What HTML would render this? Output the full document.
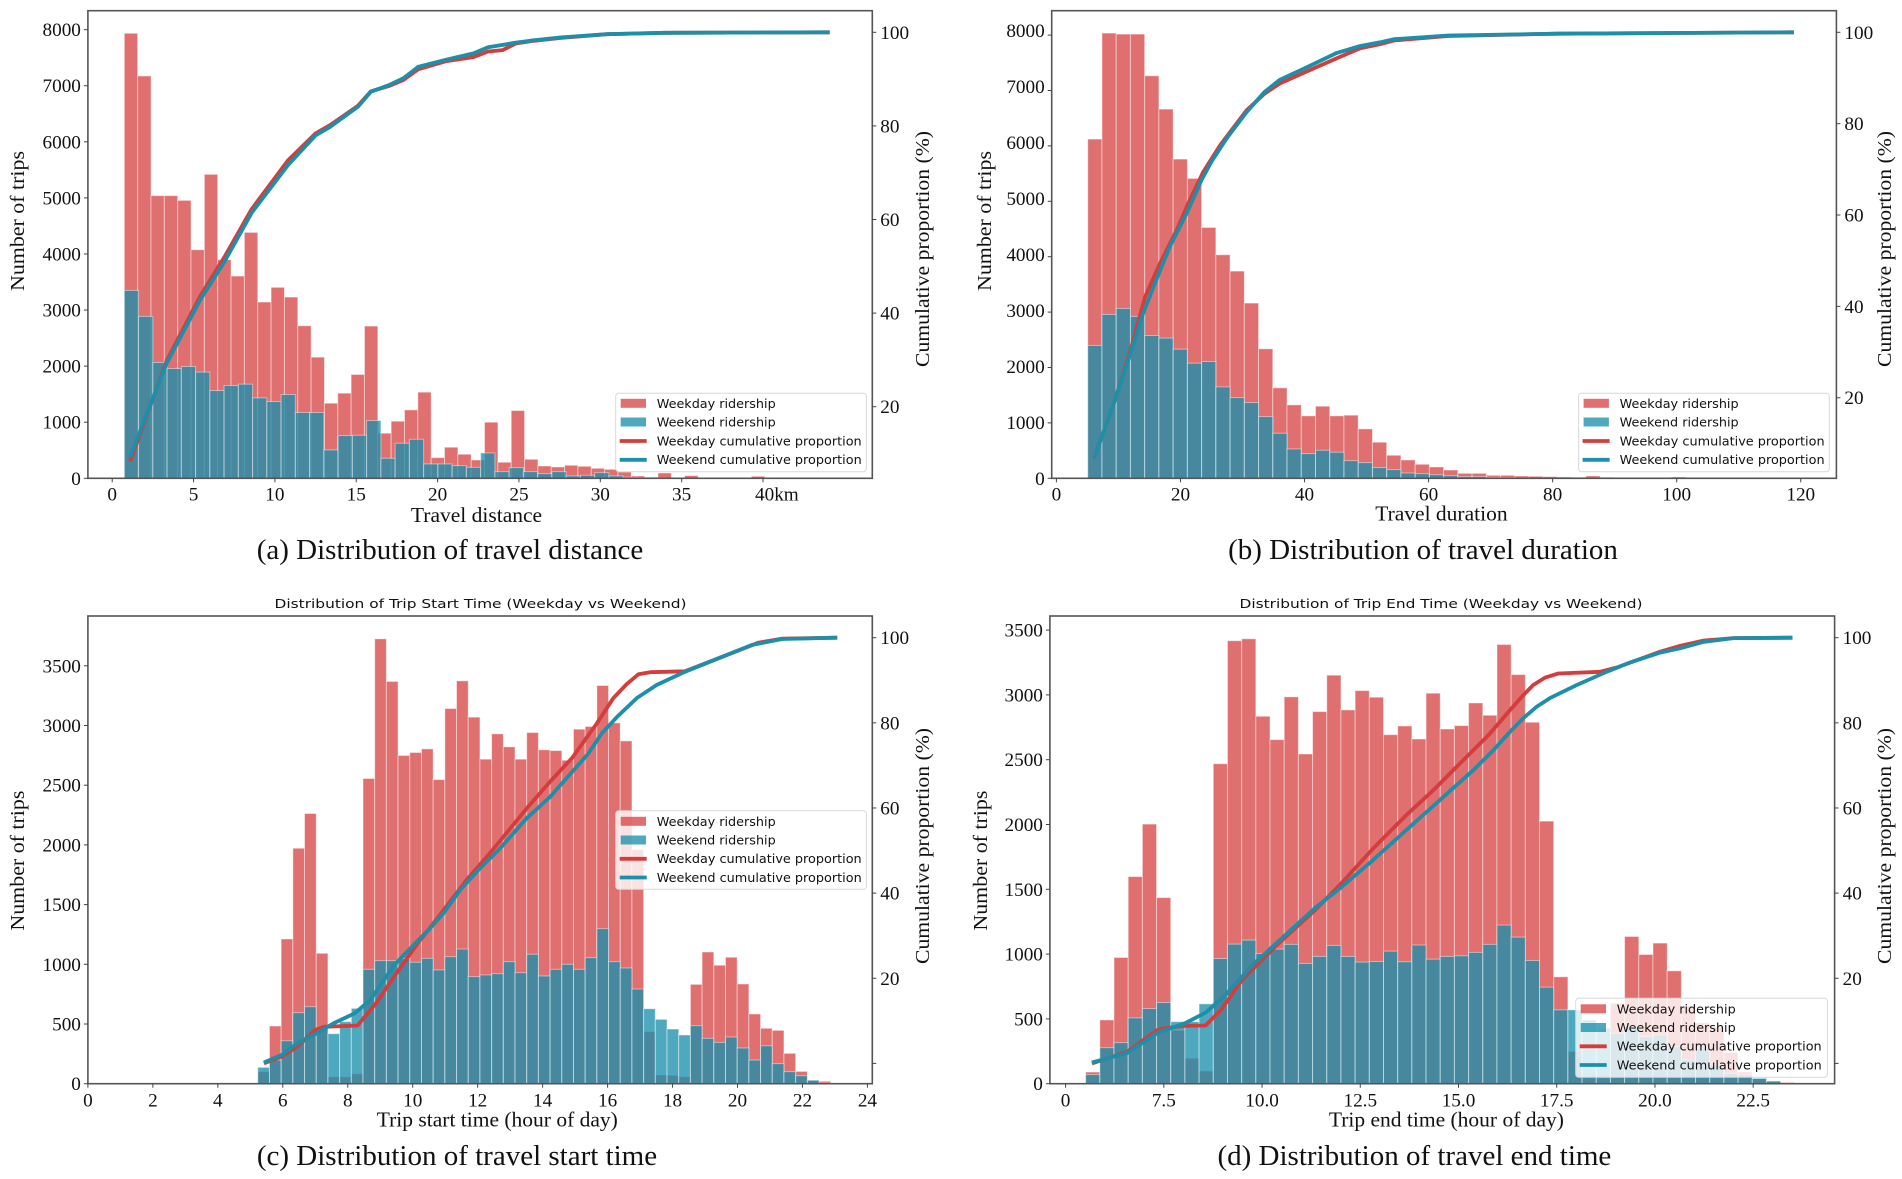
<!DOCTYPE html>
<html lang="en">
<head>
<meta charset="utf-8">
<title>Distribution of travel distance, duration, start and end time</title>
<style>
html,body{margin:0;padding:0;background:#fff;}
svg{display:block;}
text{font-family:"Liberation Serif",serif;fill:#111;}
.tick{font-size:19.2px;}
.axis-title{font-size:20px;}
.xlabel{font-size:21.5px;text-anchor:middle;}
.caption{font-size:29px;text-anchor:middle;}
.legend-text,.chart-title{font-family:"DejaVu Sans",sans-serif;font-size:12.6px;}
.legend-box{fill:#fff;fill-opacity:.8;stroke:#d8d8d8;stroke-width:1;}
.sw-red{fill:#d63f3f;fill-opacity:.75;}
.sw-teal{fill:#198fac;fill-opacity:.77;}
.ln-red{stroke:#d43d3d;stroke-width:3.8;}
.ln-teal{stroke:#1e8fa8;stroke-width:3.8;}
</style>
</head>
<body>
<svg xmlns="http://www.w3.org/2000/svg" width="1902" height="1179" viewBox="0 0 1902 1179">
<rect width="1902" height="1179" fill="#fff"/>

<g id="panel-a">
  <g id="marks-a"></g>
  <g id="axes-a"></g>
  <text class="axis-title" transform="translate(24,221) rotate(-90)" text-anchor="middle" textLength="140" lengthAdjust="spacingAndGlyphs">Number of trips</text>
  <text class="axis-title" transform="translate(929,249) rotate(-90)" text-anchor="middle" textLength="236" lengthAdjust="spacingAndGlyphs">Cumulative proportion (%)</text>
  <text class="xlabel" x="476.5" y="522">Travel distance</text>
  <text class="caption" x="450" y="559">(a) Distribution of travel distance</text>
  <g transform="translate(615.7,393.3)">
    <rect class="legend-box" width="250.7" height="78.4" rx="3"/>
    <rect class="sw-red" x="5" y="5.5" width="25.3" height="9"/>
    <rect class="sw-teal" x="5" y="24.2" width="25.3" height="9"/>
    <line class="ln-red" x1="4" x2="31" y1="47.7" y2="47.7"/>
    <line class="ln-teal" x1="4" x2="31" y1="66.5" y2="66.5"/>
    <text class="legend-text" x="41" y="14.5" textLength="119" lengthAdjust="spacingAndGlyphs">Weekday ridership</text>
    <text class="legend-text" x="41" y="33.2" textLength="119" lengthAdjust="spacingAndGlyphs">Weekend ridership</text>
    <text class="legend-text" x="41" y="52" textLength="205" lengthAdjust="spacingAndGlyphs">Weekday cumulative proportion</text>
    <text class="legend-text" x="41" y="70.8" textLength="205" lengthAdjust="spacingAndGlyphs">Weekend cumulative proportion</text>
  </g>
</g>

<g id="panel-b">
  <g id="marks-b"></g>
  <g id="axes-b"></g>
  <text class="axis-title" transform="translate(991,221) rotate(-90)" text-anchor="middle" textLength="140" lengthAdjust="spacingAndGlyphs">Number of trips</text>
  <text class="axis-title" transform="translate(1891,249) rotate(-90)" text-anchor="middle" textLength="236" lengthAdjust="spacingAndGlyphs">Cumulative proportion (%)</text>
  <text class="xlabel" x="1441.4" y="520.7">Travel duration</text>
  <text class="caption" x="1423" y="559">(b) Distribution of travel duration</text>
  <g transform="translate(1578.6,393.3)">
    <rect class="legend-box" width="250.7" height="78.4" rx="3"/>
    <rect class="sw-red" x="5" y="5.5" width="25.3" height="9"/>
    <rect class="sw-teal" x="5" y="24.2" width="25.3" height="9"/>
    <line class="ln-red" x1="4" x2="31" y1="47.7" y2="47.7"/>
    <line class="ln-teal" x1="4" x2="31" y1="66.5" y2="66.5"/>
    <text class="legend-text" x="41" y="14.5" textLength="119" lengthAdjust="spacingAndGlyphs">Weekday ridership</text>
    <text class="legend-text" x="41" y="33.2" textLength="119" lengthAdjust="spacingAndGlyphs">Weekend ridership</text>
    <text class="legend-text" x="41" y="52" textLength="205" lengthAdjust="spacingAndGlyphs">Weekday cumulative proportion</text>
    <text class="legend-text" x="41" y="70.8" textLength="205" lengthAdjust="spacingAndGlyphs">Weekend cumulative proportion</text>
  </g>
</g>

<g id="panel-c">
  <text class="chart-title" x="274.5" y="608" textLength="412" lengthAdjust="spacingAndGlyphs">Distribution of Trip Start Time (Weekday vs Weekend)</text>
  <g id="marks-c"></g>
  <g id="axes-c"></g>
  <text class="axis-title" transform="translate(24,860.6) rotate(-90)" text-anchor="middle" textLength="140" lengthAdjust="spacingAndGlyphs">Number of trips</text>
  <text class="axis-title" transform="translate(929,846) rotate(-90)" text-anchor="middle" textLength="236" lengthAdjust="spacingAndGlyphs">Cumulative proportion (%)</text>
  <text class="xlabel" x="497.3" y="1126.7">Trip start time (hour of day)</text>
  <text class="caption" x="457" y="1165">(c) Distribution of travel start time</text>
  <g transform="translate(615.7,810.8)">
    <rect class="legend-box" width="250.7" height="78.5" rx="3"/>
    <rect class="sw-red" x="5" y="6" width="25.3" height="9"/>
    <rect class="sw-teal" x="5" y="24.7" width="25.3" height="9"/>
    <line class="ln-red" x1="4" x2="31" y1="48" y2="48"/>
    <line class="ln-teal" x1="4" x2="31" y1="66.7" y2="66.7"/>
    <text class="legend-text" x="41" y="15" textLength="119" lengthAdjust="spacingAndGlyphs">Weekday ridership</text>
    <text class="legend-text" x="41" y="33.7" textLength="119" lengthAdjust="spacingAndGlyphs">Weekend ridership</text>
    <text class="legend-text" x="41" y="52.3" textLength="205" lengthAdjust="spacingAndGlyphs">Weekday cumulative proportion</text>
    <text class="legend-text" x="41" y="71" textLength="205" lengthAdjust="spacingAndGlyphs">Weekend cumulative proportion</text>
  </g>
</g>

<g id="panel-d">
  <text class="chart-title" x="1239.5" y="608" textLength="403" lengthAdjust="spacingAndGlyphs">Distribution of Trip End Time (Weekday vs Weekend)</text>
  <g id="marks-d"></g>
  <g id="axes-d"></g>
  <text class="axis-title" transform="translate(987,860.6) rotate(-90)" text-anchor="middle" textLength="140" lengthAdjust="spacingAndGlyphs">Number of trips</text>
  <text class="axis-title" transform="translate(1891,846) rotate(-90)" text-anchor="middle" textLength="236" lengthAdjust="spacingAndGlyphs">Cumulative proportion (%)</text>
  <text class="xlabel" x="1446.4" y="1126.7">Trip end time (hour of day)</text>
  <text class="caption" x="1414.4" y="1165">(d) Distribution of travel end time</text>
  <g transform="translate(1575.7,998.3)">
    <rect class="legend-box" width="251.7" height="79" rx="3"/>
    <rect class="sw-red" x="5" y="6" width="25.3" height="9"/>
    <rect class="sw-teal" x="5" y="24.7" width="25.3" height="9"/>
    <line class="ln-red" x1="4" x2="31" y1="48" y2="48"/>
    <line class="ln-teal" x1="4" x2="31" y1="66.7" y2="66.7"/>
    <text class="legend-text" x="41" y="15" textLength="119" lengthAdjust="spacingAndGlyphs">Weekday ridership</text>
    <text class="legend-text" x="41" y="33.7" textLength="119" lengthAdjust="spacingAndGlyphs">Weekend ridership</text>
    <text class="legend-text" x="41" y="52.3" textLength="205" lengthAdjust="spacingAndGlyphs">Weekday cumulative proportion</text>
    <text class="legend-text" x="41" y="71" textLength="205" lengthAdjust="spacingAndGlyphs">Weekend cumulative proportion</text>
  </g>
</g>
</svg>

<script>
// Panel (a) travel distance
const aWeekdayCounts = [7935,7174,5040,5040,4956,4076,5420,3898,3606,4385,3143,3405,3232,2720,2160,1339,1518,1851,2714,804,1018,1220,1536,369,554,429,327,1000,286,1208,339,220,202,232,214,178,160,113,42,20,95,10,48,5,5,5,5,36,3];
const aWeekendCounts = [3351,2887,2065,1958,1994,1893,1565,1655,1679,1434,1369,1494,1173,1173,506,762,768,1030,357,625,696,256,256,226,196,452,119,190,119,83,119,42,54,101,42,20,12,8,5,5];
const aCurveKm = [1.1,3.35,5.4,6.9,8.57,10.8,12.5,13.4,15.1,15.9,17,17.9,18.8,20.5,22.2,23.1,24,24.8,25.7,27.6,30.4,34,44.1];
const aWeekdayCum = [8.3,29.8,43.6,52,62.2,72.6,78.4,80.2,84.3,87.4,88.5,89.8,92.1,93.8,94.7,95.9,96.2,97.6,98.1,98.8,99.6,99.9,100];
const aWeekendCum = [9.3,29.3,42.8,51,61.4,71.6,78,79.8,84.1,87.3,88.7,90.2,92.6,94.1,95.5,96.8,97.3,97.8,98.2,98.9,99.6,99.9,100];
const aXTicks = [0,5,10,15,20,25,30,35,40];
const aXTickLabels = ['0','5','10','15','20','25','30','35','40km'];
const aYTicks = [0,1000,2000,3000,4000,5000,6000,7000,8000];
const aY2Ticks = [20,40,60,80,100];

// Panel (b) travel duration
const bWeekdayCounts = [6123,8036,8018,8018,7266,6664,5762,5413,4528,4035,3740,3163,2337,1633,1325,1127,1301,1127,1139,892,651,416,331,253,205,150,90,90,54,54,42,36,30,24,18,42,18,12,12,12,12,24,6,6,6];
const bWeekendCounts = [2398,2958,3066,2922,2578,2530,2331,2078,2108,1650,1457,1367,1114,813,530,446,506,470,319,283,193,157,96,84,66,48,30,30,18,12,8,6,5,4,3];
const bWeekdayMinutes = [6.06,9.45,11.87,14.3,16.7,19.4,21.5,23.7,26.4,30.7,33.6,36,40.3,45.2,49,52.2,54.4,63.2,80.8,118.9];
const bWeekdayCum = [6.7,19.5,30,42.1,49.4,56.7,63.3,69.5,75.3,83,86.6,88.8,91.4,94.3,96.5,97.4,98.2,99.2,99.7,100];
const bWeekendMinutes = [6.06,9.45,11.87,14,15.9,18.3,21,23.4,25,27.45,30.7,33.6,36,40.3,45.2,49,52.2,54.4,63.2,80.8,118.9];
const bWeekendCum = [6.7,19.5,29.4,38.5,45.1,53.1,60.4,67.7,71.7,76.8,82.6,87,89.6,92.3,95.5,97,97.8,98.5,99.3,99.7,100];
const bXTicks = [0,20,40,60,80,100,120];
const bXTickLabels = ['0','20','40','60','80','100','120'];
const bYTicks = [0,1000,2000,3000,4000,5000,6000,7000,8000];
const bY2Ticks = [20,40,60,80,100];

// Panel (c) trip start time
const cWeekdayCounts = [100,483,1212,1972,2263,1092,58,58,84,2556,3726,3369,2749,2774,2804,2547,3142,3374,3070,2718,2930,2821,2718,2941,2796,2790,2709,2969,2992,3335,3022,2871,1961,436,73,70,59,832,1103,992,1059,835,584,464,447,254,103,31,20];
const cWeekendCounts = [137,198,360,595,645,464,419,520,631,958,1031,1031,1048,1017,1050,953,1064,1128,897,911,922,1022,930,1084,902,958,1000,958,1056,1299,1022,969,793,628,539,458,408,486,380,346,391,299,198,318,168,101,67,28,6];
const cWeekdayHours = [5.42,5.97,6.44,7,7.28,8.3,8.87,9.43,10.18,10.48,10.84,11.66,12.38,13.51,14.23,14.9,15.67,16.18,16.59,16.95,17.31,18.38,19.46,20.63,21.38,23.07];
const cWeekdayCum = [0,1.6,3.9,7.9,8.6,8.9,14.1,20.4,28.5,31.3,34.9,43.1,49.4,59.9,66.2,71.7,79.9,85.8,89.1,91.4,91.9,92.1,95.3,98.8,99.8,100];
const cWeekendHours = [5.42,5.97,6.44,7,7.56,8.22,8.69,9.43,10.18,10.48,10.94,11.46,12.07,12.69,13.51,14.23,15.05,15.41,15.82,16.28,16.9,17.51,18.38,19.46,20.45,21.38,23.07];
const cWeekendCum = [0.2,2,4.7,6.9,9.4,11.8,14.9,23.1,29,31.3,35.2,40.7,45.8,50.5,57.6,62.6,69.7,72.8,77.5,81.3,85.8,88.9,92,95.3,98.3,99.7,100];
const cXTicks = [0,2,4,6,8,10,12,14,16,18,20,22,24];
const cXTickLabels = ['0','2','4','6','8','10','12','14','16','18','20','22','24'];
const cYTicks = [0,500,1000,1500,2000,2500,3000,3500];
const cY2Ticks = [0,20,40,60,80,100];

// Panel (d) trip end time
const dWeekdayCounts = [90,492,974,1598,2003,1436,410,196,98,2469,3418,3433,2835,2655,2985,2544,2871,3152,2884,3033,2982,2693,2760,2660,3013,2737,2763,2938,2843,3389,3157,2789,2026,825,250,55,45,620,1136,997,1085,871,600,470,440,240,90,40,18,10];
const dWeekendCounts = [70,278,317,508,580,626,479,479,616,966,1077,1108,1005,1039,1075,928,982,1067,982,938,943,1023,941,1070,961,982,987,1013,1075,1224,1131,951,745,570,570,492,428,389,441,363,376,286,183,273,144,80,67,41,20,5];
const dWeekdayHours = [5.67,6.56,7.33,7.49,8.03,8.56,8.95,9.49,10.42,11.35,11.98,12.83,13.68,14.36,15.04,15.76,16.31,16.65,16.9,17.2,17.54,18.6,19.03,20.13,20.64,21.22,22,23.5];
const dWeekdayCum = [0,2.7,7.8,8.2,8.8,8.9,12.5,19.6,28.2,36,41.9,50.5,58.4,64.2,70.5,77.1,83,86.5,88.9,90.6,91.6,92,93,96.7,98.1,99.3,99.9,100];
const dWeekendHours = [5.67,6.56,7.33,8.03,8.56,9.03,9.8,10.73,11.35,11.98,12.83,13.72,14.53,15.38,15.89,16.31,16.65,16.99,17.33,18.01,18.77,19.37,20.13,20.64,21.22,22,23.5];
const dWeekendCum = [0.2,2.4,7.1,9.4,11.9,15.7,23.5,31.3,36.5,41.1,47.8,55.2,61.9,68.9,73.6,77.9,81.1,83.8,85.8,88.9,92,94.2,96.5,97.5,99,99.9,100];
const dXTicks = [5,7.5,10,12.5,15,17.5,20,22.5];
const dXTickLabels = ['0','7.5','10.0','12.5','15.0','17.5','20.0','22.5'];
const dYTicks = [0,500,1000,1500,2000,2500,3000,3500];
const dY2Ticks = [0,20,40,60,80,100];

const NS = 'http://www.w3.org/2000/svg';
function make(tag, attrs, parent){
  const el = document.createElementNS(NS, tag);
  for (const k in attrs) el.setAttribute(k, attrs[k]);
  parent.appendChild(el);
  return el;
}

function drawPanel(p){
  const xScale = v => p.x0 + (v - p.xRef) * p.xPer;
  const yScale = v => p.yBase - v * p.yPer;
  const y2Scale = v => p.y100 + (100 - v) * p.y2Per;
  const yLabelPos = v => p.yBase - v * (p.yLabelPer || p.yPer);
  const marks = document.getElementById('marks-' + p.key);
  const axes = document.getElementById('axes-' + p.key);

  p.weekday.forEach((c, i) => {
    const x0 = xScale(p.dayStart + i * p.dayWidth);
    const x1 = xScale(p.dayStart + (i + 1) * p.dayWidth);
    const r = make('rect', {x:x0, y:yScale(c), width:x1 - x0, height:yScale(0) - yScale(c), fill:'#d63f3f', 'fill-opacity':.75, stroke:'#fff', 'stroke-opacity':.45, 'stroke-width':1}, marks);
    
    
  });
  p.weekend.forEach((c, i) => {
    const x0 = xScale(p.endStart + i * p.endWidth);
    const x1 = xScale(p.endStart + (i + 1) * p.endWidth);
    const r = make('rect', {x:x0, y:yScale(c), width:x1 - x0, height:yScale(0) - yScale(c), fill:'#198fac', 'fill-opacity':.77, stroke:'#fff', 'stroke-opacity':.45, 'stroke-width':1}, marks);
    
    
  });

  const linePoints = (xs, ys) => xs.map((x, i) => xScale(x).toFixed(1) + ',' + y2Scale(ys[i]).toFixed(1)).join(' ');
  const red = make('polyline', {points:linePoints(p.dayLineX, p.dayLineY), fill:'none', stroke:'#d43d3d', 'stroke-width':3.8, 'stroke-linejoin':'round'}, marks);
  
  
  const teal = make('polyline', {points:linePoints(p.endLineX, p.endLineY), fill:'none', stroke:'#1e8fa8', 'stroke-width':3.8, 'stroke-linejoin':'round'}, marks);
  
  

  const f = p.frame;
  const frame = make('rect', {x:f.l, y:f.t, width:f.r - f.l, height:f.b - f.t, fill:'none', stroke:'#555', 'stroke-width':1.6}, axes);
  
  

  p.xTicks.forEach((v, i) => {
    const x = xScale(v);
    const t = make('line', {x1:x, x2:x, y1:f.b, y2:f.b + 4, stroke:'#444', 'stroke-width':1}, axes);
    
    
    const label = p.xLabels[i];
    const lb = make('text', {x:x, y:p.xLabelY, class:'tick', 'text-anchor': label.indexOf('km') > 0 ? 'start' : 'middle'}, axes);
    if (label.indexOf('km') > 0) lb.setAttribute('x', x - 8);
    lb.textContent = label;
    
    
  });
  p.yTicks.forEach(v => {
    const y = yScale(v);
    const t = make('line', {x1:f.l - 4, x2:f.l, y1:y, y2:y, stroke:'#444', 'stroke-width':1}, axes);
    
    
    const lb = make('text', {x:f.l - 7, y:yLabelPos(v) + 6.5, class:'tick', 'text-anchor':'end'}, axes);
    lb.textContent = String(v);
    
    
  });
  p.y2Ticks.forEach(v => {
    const y = y2Scale(v);
    const t = make('line', {x1:f.r, x2:f.r + 4, y1:y, y2:y, stroke:'#444', 'stroke-width':1}, axes);
    
    
    if (v === 0) return;
    const lb = make('text', {x:f.r + 8, y:y + 6.5, class:'tick'}, axes);
    lb.textContent = String(v);
    
    
  });
}

drawPanel({key:'a', frame:{l:87.9,r:872.3,t:10.7,b:478.3}, x0:112.2, xRef:0, xPer:16.27, yBase:478.3, yPer:0.05608, y100:32.3, y2Per:4.68,
  dayStart:0.745, dayWidth:0.82, endStart:0.745, endWidth:0.876, weekday:aWeekdayCounts, weekend:aWeekendCounts,
  dayLineX:aCurveKm, dayLineY:aWeekdayCum, endLineX:aCurveKm, endLineY:aWeekendCum,
  xTicks:aXTicks, xLabels:aXTickLabels, xLabelY:500.7, yTicks:aYTicks, y2Ticks:aY2Ticks});
drawPanel({key:'b', frame:{l:1051.7,r:1836.4,t:10.7,b:478.3}, x0:1056.4, xRef:0, xPer:6.203, yBase:478.3, yPer:0.0554, yLabelPer:0.056, y100:32.3, y2Per:4.568,
  dayStart:5.05, dayWidth:2.295, endStart:5.05, endWidth:2.295, weekday:bWeekdayCounts, weekend:bWeekendCounts,
  dayLineX:bWeekdayMinutes, dayLineY:bWeekdayCum, endLineX:bWeekendMinutes, endLineY:bWeekendCum,
  xTicks:bXTicks, xLabels:bXTickLabels, xLabelY:500.7, yTicks:bYTicks, y2Ticks:bY2Ticks});
drawPanel({key:'c', frame:{l:87.9,r:872.3,t:616,b:1083.7}, x0:87.9, xRef:0, xPer:32.48, yBase:1083.7, yPer:0.1194, y100:637.7, y2Per:4.257,
  dayStart:5.23, dayWidth:0.36, endStart:5.23, endWidth:0.36, weekday:cWeekdayCounts, weekend:cWeekendCounts,
  dayLineX:cWeekdayHours, dayLineY:cWeekdayCum, endLineX:cWeekendHours, endLineY:cWeekendCum,
  xTicks:cXTicks, xLabels:cXTickLabels, xLabelY:1106.7, yTicks:cYTicks, y2Ticks:cY2Ticks});
drawPanel({key:'d', frame:{l:1049.9,r:1834.6,t:616,b:1083.7}, x0:1065.6, xRef:5, xPer:39.29, yBase:1083.7, yPer:0.1296, y100:637.7, y2Per:4.257,
  dayStart:5.51, dayWidth:0.361, endStart:5.51, endWidth:0.361, weekday:dWeekdayCounts, weekend:dWeekendCounts,
  dayLineX:dWeekdayHours, dayLineY:dWeekdayCum, endLineX:dWeekendHours, endLineY:dWeekendCum,
  xTicks:dXTicks, xLabels:dXTickLabels, xLabelY:1106.7, yTicks:dYTicks, y2Ticks:dY2Ticks});
</script>
</body>
</html>
